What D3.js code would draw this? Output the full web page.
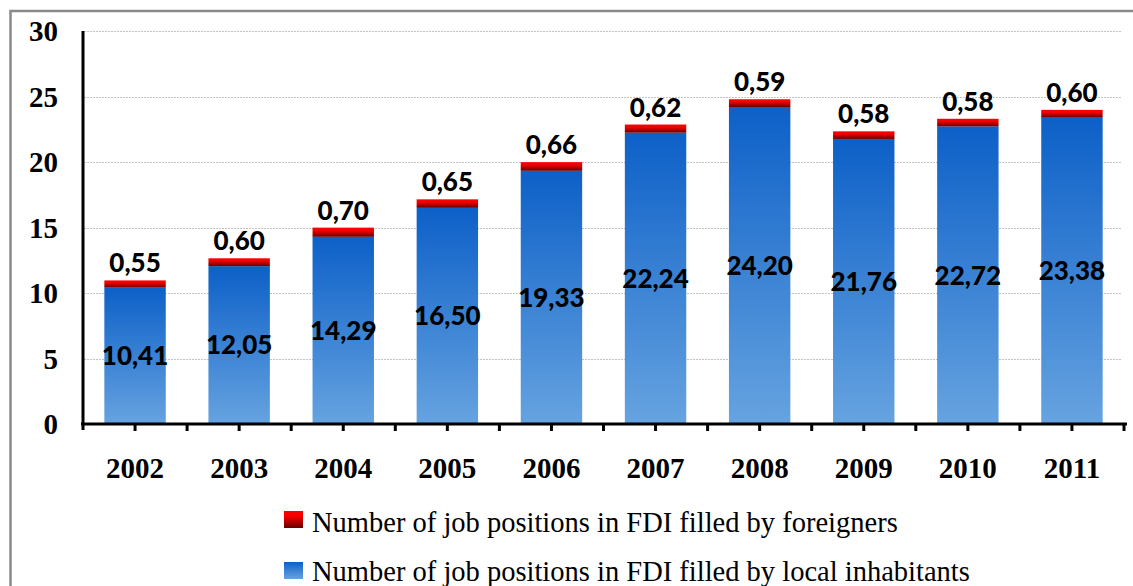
<!DOCTYPE html>
<html>
<head>
<meta charset="utf-8">
<script src="https://cdn.jsdelivr.net/npm/d3@7"></script>
<style>
  html, body { margin: 0; padding: 0; background: #fff; }
  svg { display: block; }
</style>
</head>
<body>
<svg id="chart" width="1133" height="586"></svg>
<script>
const years = ["2002","2003","2004","2005","2006","2007","2008","2009","2010","2011"];
const localJobs = [10.41, 12.05, 14.29, 16.50, 19.33, 22.24, 24.20, 21.76, 22.72, 23.38];
const foreignJobs = [0.55, 0.60, 0.70, 0.65, 0.66, 0.62, 0.59, 0.58, 0.58, 0.60];
const yTicks = [0, 5, 10, 15, 20, 25, 30];
const seriesNames = [
  "Number of job positions in FDI filled by foreigners",
  "Number of job positions in FDI filled by local inhabitants"
];

const svg = d3.select("#chart");
const defs = svg.append("defs");

const blueGrad = defs.append("linearGradient").attr("id", "gBlue")
  .attr("x1", 0).attr("y1", 0).attr("x2", 0).attr("y2", 1);
blueGrad.append("stop").attr("offset", "0%").attr("stop-color", "#0d60c8");
blueGrad.append("stop").attr("offset", "100%").attr("stop-color", "#66a3e0");

const redGrad = defs.append("linearGradient").attr("id", "gRed")
  .attr("x1", 0).attr("y1", 0).attr("x2", 0).attr("y2", 1);
redGrad.append("stop").attr("offset", "0%").attr("stop-color", "#ff0000");
redGrad.append("stop").attr("offset", "35%").attr("stop-color", "#f00000");
redGrad.append("stop").attr("offset", "100%").attr("stop-color", "#660000");

// outer frame (extends past the window on right and bottom)
svg.append("rect")
  .attr("x", 10.5).attr("y", 11).attr("width", 1140).attr("height", 600)
  .attr("fill", "none").attr("stroke", "#8a8a8a").attr("stroke-width", 2.5);

const x = d3.scaleBand().domain(years).range([83, 1124]).paddingInner(0.41).paddingOuter(0.205);
const y = d3.scaleLinear().domain([0, 30]).range([424, 31]);

// gridlines
svg.append("g").selectAll("line").data(yTicks.filter(d => d > 0)).join("line")
  .attr("x1", 84).attr("x2", 1121)
  .attr("y1", d => Math.round(y(d)) + 0.5).attr("y2", d => Math.round(y(d)) + 0.5)
  .attr("stroke", "#c4c4c4").attr("stroke-width", 1).attr("stroke-dasharray", "2,1");

// bars
const data = years.map((yr, i) => ({ year: yr, local: localJobs[i], foreign: foreignJobs[i] }));

svg.append("g").selectAll("rect").data(data).join("rect")
  .attr("x", d => x(d.year)).attr("width", x.bandwidth())
  .attr("y", d => y(d.local)).attr("height", d => y(0) - y(d.local))
  .attr("fill", "url(#gBlue)");

svg.append("g").selectAll("rect").data(data).join("rect")
  .attr("x", d => x(d.year)).attr("width", x.bandwidth())
  .attr("y", d => y(d.local + d.foreign)).attr("height", d => y(d.local) - y(d.local + d.foreign))
  .attr("fill", "url(#gRed)");

const fmt = v => v.toFixed(2).replace(".", ",");

// local labels (centered in blue segment)
svg.append("g").selectAll("text").data(data).join("text")
  .attr("x", d => x(d.year) + x.bandwidth() / 2)
  .attr("y", d => (y(0) + y(d.local)) / 2)
  .attr("dy", "0.36em")
  .attr("text-anchor", "middle")
  .style("font-family", "Lato, 'Open Sans', sans-serif")
  .style("font-weight", "900").style("font-size", "26px").attr("fill", "#000")
  .text(d => fmt(d.local));

// foreign labels (above bar)
svg.append("g").selectAll("text").data(data).join("text")
  .attr("x", d => x(d.year) + x.bandwidth() / 2)
  .attr("y", d => y(d.local + d.foreign) - 8)
  .attr("text-anchor", "middle")
  .style("font-family", "Lato, 'Open Sans', sans-serif")
  .style("font-weight", "900").style("font-size", "26px").attr("fill", "#000")
  .text(d => fmt(d.foreign));

// y axis line
svg.append("line").attr("x1", 83).attr("x2", 83).attr("y1", 31).attr("y2", 430)
  .attr("stroke", "#000").attr("stroke-width", 3);

// y tick labels
svg.append("g").selectAll("text").data(yTicks).join("text")
  .attr("x", 58).attr("y", d => y(d)).attr("dy", "0.36em")
  .attr("text-anchor", "end")
  .style("font-family", "'Liberation Serif', 'Times New Roman', serif")
  .style("font-weight", "bold").style("font-size", "29px").attr("fill", "#000")
  .text(d => d);

// x axis
const xAxis = d3.axisBottom(x).tickSize(7).tickSizeOuter(0);
const gx = svg.append("g").attr("transform", `translate(0,${y(0)})`).call(xAxis);
gx.select(".domain").remove();
gx.selectAll(".tick line").attr("stroke", "#000").attr("stroke-width", 3);
gx.selectAll(".tick text")
  .attr("dy", "0")
  .attr("y", 54)
  .style("font-family", "'Liberation Serif', 'Times New Roman', serif")
  .style("font-weight", "bold").style("font-size", "29px").attr("fill", "#000");

// boundary ticks
const step = x.step();
const bounds = years.map(yr => x(yr) - x.paddingInner() * step / 2).concat([x(years[years.length - 1]) + x.bandwidth() + x.paddingInner() * step / 2]);
svg.append("g").selectAll("line").data(bounds.slice(1)).join("line")
  .attr("x1", d => d).attr("x2", d => d).attr("y1", y(0)).attr("y2", y(0) + 7)
  .attr("stroke", "#000").attr("stroke-width", 3);

svg.append("line").attr("x1", 81).attr("x2", 1127).attr("y1", y(0)).attr("y2", y(0))
  .attr("stroke", "#000").attr("stroke-width", 3);

// legend
const legend = svg.append("g");
const legendItems = [
  { name: seriesNames[0], fill: "url(#gRed)", sy: 511, ty: 532 },
  { name: seriesNames[1], fill: "url(#gBlue)", sy: 562, ty: 581 }
];
legend.selectAll("rect").data(legendItems).join("rect")
  .attr("x", 284).attr("y", d => d.sy).attr("width", 19).attr("height", 17)
  .attr("fill", d => d.fill);
legend.selectAll("text").data(legendItems).join("text")
  .attr("x", 312).attr("y", d => d.ty)
  .style("font-family", "'Liberation Serif', 'Times New Roman', serif")
  .style("font-size", "28.5px").attr("fill", "#000")
  .text(d => d.name);
</script>
</body>
</html>
